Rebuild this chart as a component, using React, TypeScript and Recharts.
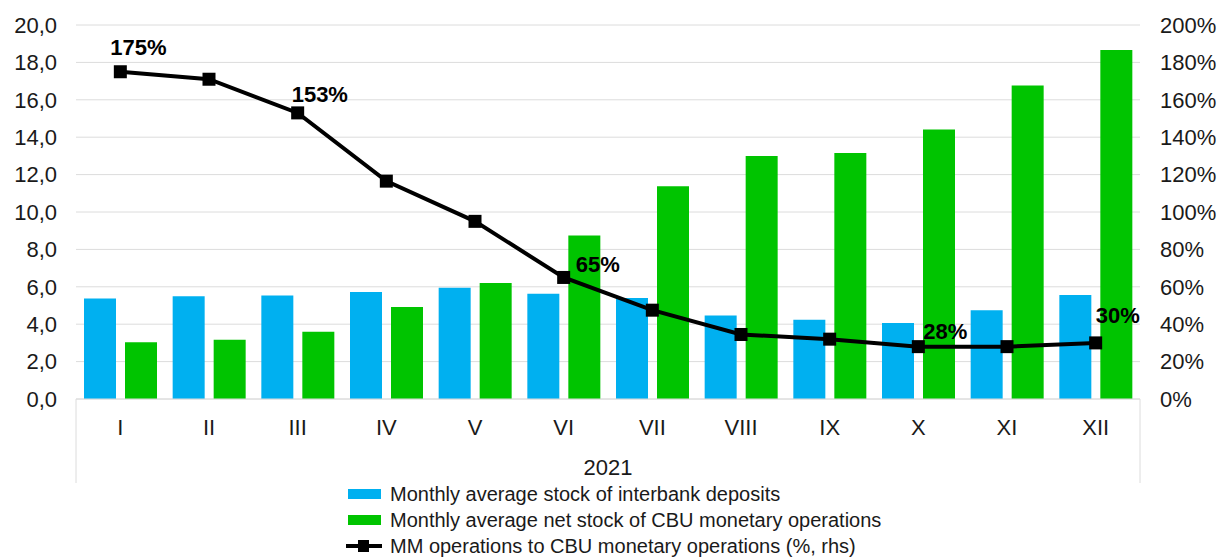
import React from 'react';
import { ComposedChart, Bar, Line, XAxis, YAxis, CartesianGrid, LabelList, Label } from 'recharts';

// monthly averages, trillion soums (left axis) and ratio in % (right axis)
const months = ['I', 'II', 'III', 'IV', 'V', 'VI', 'VII', 'VIII', 'IX', 'X', 'XI', 'XII'];
const interbankDeposits = [5.37, 5.49, 5.53, 5.72, 5.95, 5.63, 5.4, 4.47, 4.24, 4.06, 4.74, 5.56];
const cbuOperations = [3.04, 3.17, 3.6, 4.92, 6.2, 8.75, 11.38, 13.0, 13.16, 14.41, 16.77, 18.66];
const mmToCbuRatio = [175, 171, 153, 116.5, 95, 65, 47.5, 34.5, 32, 28, 28, 30];

const leftTicks = [0, 2, 4, 6, 8, 10, 12, 14, 16, 18, 20];
const rightTicks = [0, 20, 40, 60, 80, 100, 120, 140, 160, 180, 200];

const BLUE = '#00b0f0';
const GREEN = '#00c400';
const GRID = '#dcdcdc';
const TEXT = '#1a1a1a';
const FONT = '"Liberation Sans", Arial, sans-serif';

// only some points of the ratio line carry a value label; offsets from the marker
const LABEL_OFFSETS: Record<number, { dx: number; dy: number }> = {
  0: { dx: -10, dy: -17 },
  2: { dx: -6, dy: -11 },
  5: { dx: 12, dy: -5 },
  9: { dx: 5, dy: -8 },
  11: { dx: 0, dy: -20 },
};

const legendItems = [
  { name: 'Monthly average stock of interbank deposits', color: BLUE, kind: 'bar' },
  { name: 'Monthly average net stock of CBU monetary operations', color: GREEN, kind: 'bar' },
  { name: 'MM operations to CBU monetary operations (%, rhs)', color: '#000', kind: 'line' },
];

const data = months.map((m, i) => ({
  month: m,
  interbank: interbankDeposits[i],
  cbu: cbuOperations[i],
  ratio: mmToCbuRatio[i],
}));

const MonthTick = (props: any) => {
  const { x, y, payload, index } = props;
  const half = payload?.offset || 1064 / months.length / 2;
  return (
    <g>
      <text x={x} y={y + 36} textAnchor="middle" fontSize={22} fill={TEXT} fontFamily={FONT}>
        {payload.value}
      </text>
      {index === 0 && <line x1={x - half} x2={x - half} y1={y} y2={y + 84} stroke={GRID} />}
      {index === months.length - 1 && <line x1={x + half} x2={x + half} y1={y} y2={y + 84} stroke={GRID} />}
    </g>
  );
};

const SquareDot = (props: any) => {
  const { cx, cy, index } = props;
  if (cx == null || cy == null) return <g key={index} />;
  return <rect key={index} x={cx - 6.5} y={cy - 6.5} width={13} height={13} fill="#000" />;
};

const RatioLabel = (props: any) => {
  const { x, y, value, index } = props;
  const off = LABEL_OFFSETS[index];
  if (!off) return null;
  return (
    <text x={x + off.dx} y={y + off.dy} fontSize={22} fontWeight="bold" fill="#000" fontFamily={FONT}>
      {`${Math.round(value)}%`}
    </text>
  );
};

const LegendBox = () => (
  <div style={{ position: 'absolute', left: 346, top: 481, fontFamily: FONT, fontSize: 20, color: TEXT }}>
    {legendItems.map((item) => (
      <div key={item.name} style={{ display: 'flex', alignItems: 'center', height: 26 }}>
        <svg width={44} height={16} style={{ flex: 'none' }}>
          {item.kind === 'bar' ? (
            <rect x={2} y={3} width={33} height={10} fill={item.color} />
          ) : (
            <g>
              <line x1={0} x2={36} y1={8} y2={8} stroke={item.color} strokeWidth={4} />
              <rect x={12} y={2} width={11} height={12} fill={item.color} />
            </g>
          )}
        </svg>
        <span style={{ whiteSpace: 'nowrap' }}>{item.name}</span>
      </div>
    ))}
  </div>
);

export default function App() {
  return (
    <div style={{ position: 'absolute', left: 0, top: 0, width: 1232, height: 558, background: '#fff' }}>
      <ComposedChart
        width={1232}
        height={558}
        data={data}
        margin={{ top: 25, right: 0, bottom: 75, left: 0 }}
        barSize={32}
        barGap={9}
      >
        <CartesianGrid yAxisId="left" vertical={false} stroke={GRID} strokeWidth={1} />
        <XAxis
          dataKey="month"
          height={84}
          interval={0}
          tickLine={false}
          tickSize={0}
          tickMargin={0}
          axisLine={{ stroke: GRID }}
          tick={<MonthTick />}
        >
          <Label value="2021" position="insideBottom" offset={8} fontSize={22} fill={TEXT} fontFamily={FONT} />
        </XAxis>
        <YAxis
          yAxisId="left"
          width={76}
          domain={[0, 20]}
          ticks={leftTicks}
          axisLine={false}
          tickLine={false}
          tickSize={0}
          tickMargin={19}
          tick={{ fontSize: 22, fill: TEXT, fontFamily: FONT }}
          tickFormatter={(v: number) => v.toFixed(1).replace('.', ',')}
        />
        <YAxis
          yAxisId="right"
          orientation="right"
          width={92}
          domain={[0, 200]}
          ticks={rightTicks}
          axisLine={false}
          tickLine={false}
          tickSize={0}
          tickMargin={20}
          tick={{ fontSize: 22, fill: TEXT, fontFamily: FONT }}
          tickFormatter={(v: number) => `${v}%`}
        />
        <Bar yAxisId="left" dataKey="interbank" fill={BLUE} isAnimationActive={false} />
        <Bar yAxisId="left" dataKey="cbu" fill={GREEN} isAnimationActive={false} />
        <Line
          yAxisId="right"
          dataKey="ratio"
          type="linear"
          stroke="#000"
          strokeWidth={4}
          dot={<SquareDot />}
          activeDot={false}
          isAnimationActive={false}
        >
          <LabelList dataKey="ratio" content={<RatioLabel />} />
        </Line>
      </ComposedChart>
      <LegendBox />
    </div>
  );
}
